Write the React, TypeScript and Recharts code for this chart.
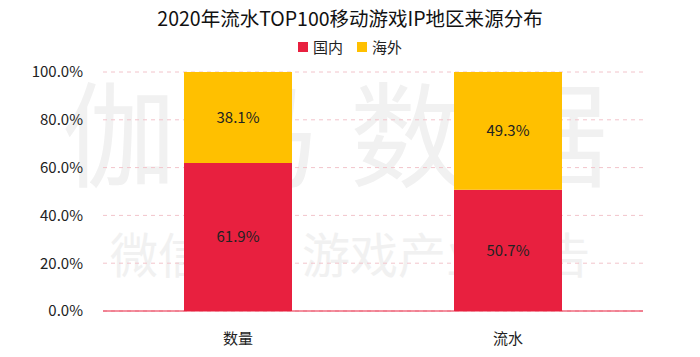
import React from 'react';
import { BarChart, Bar, XAxis, YAxis, CartesianGrid, LabelList } from 'recharts';

const categories = ['数量', '流水'];
const domestic = [61.9, 50.7];
const overseas = [38.1, 49.3];
const yTicks = [0, 20, 40, 60, 80, 100];

const RED = '#E8203F';
const YELLOW = '#FFC000';
const FONT = '"Noto Sans CJK SC", "Microsoft YaHei", sans-serif';

const data = categories.map((name, i) => ({ name, domestic: domestic[i], overseas: overseas[i] }));

export default function App() {
  return (
    <div style={{ position: 'absolute', left: 0, top: 0, width: 700, height: 357, background: '#fff', overflow: 'hidden' }}>
      {/* watermark */}
      <div style={{ position: 'absolute', left: 0, top: 72, width: 700, textAlign: 'center', fontFamily: FONT, fontSize: 114, color: '#f1f1f1', letterSpacing: 30, lineHeight: 1 }}>
        伽马数据
      </div>
      <div style={{ position: 'absolute', left: 0, top: 228, width: 700, textAlign: 'center', fontFamily: FONT, fontSize: 48, color: '#f1f1f1', lineHeight: 1 }}>
        微信号：游戏产业报告
      </div>
      <div style={{ position: 'absolute', left: 0, top: 3, width: 700, textAlign: 'center', fontFamily: FONT, fontSize: 19.5, color: '#111' }}>
        2020年流水TOP100移动游戏IP地区来源分布
      </div>
      <div style={{ position: 'absolute', left: 0, top: 36, width: 700, display: 'flex', justifyContent: 'center', gap: 14, fontFamily: FONT, fontSize: 15, color: '#222' }}>
        <span style={{ display: 'flex', alignItems: 'center' }}>
          <span style={{ width: 10, height: 10, background: RED, marginRight: 5, display: 'inline-block' }} />国内
        </span>
        <span style={{ display: 'flex', alignItems: 'center' }}>
          <span style={{ width: 10, height: 10, background: YELLOW, marginRight: 5, display: 'inline-block' }} />海外
        </span>
      </div>
      <div style={{ position: 'absolute', left: 0, top: 0 }}>
        <BarChart width={700} height={357} data={data} margin={{ top: 72, right: 57, bottom: 4, left: 10 }} barCategoryGap="30%">
          <CartesianGrid vertical={false} stroke="#f2c4cb" strokeDasharray="4 4" />
          <XAxis
            dataKey="name"
            tickLine={false}
            axisLine={{ stroke: RED, strokeWidth: 1 }}
            tick={{ fontSize: 15, fill: '#222', fontFamily: FONT }}
            tickMargin={16}
            height={42}
          />
          <YAxis
            domain={[0, 100]}
            ticks={yTicks}
            tickFormatter={(v: number) => `${v.toFixed(1)}%`}
            tickLine={false}
            axisLine={false}
            tick={{ fontSize: 15, fill: '#222', fontFamily: FONT }}
            tickMargin={14}
            width={93}
          />
          <Bar dataKey="domestic" stackId="a" fill={RED} barSize={108} isAnimationActive={false}>
            <LabelList dataKey="domestic" position="center" formatter={(v: any) => `${v}%`} style={{ fontSize: 15, fill: '#222', fontFamily: FONT }} />
          </Bar>
          <Bar dataKey="overseas" stackId="a" fill={YELLOW} barSize={108} isAnimationActive={false}>
            <LabelList dataKey="overseas" position="center" formatter={(v: any) => `${v}%`} style={{ fontSize: 15, fill: '#222', fontFamily: FONT }} />
          </Bar>
        </BarChart>
      </div>
    </div>
  );
}
